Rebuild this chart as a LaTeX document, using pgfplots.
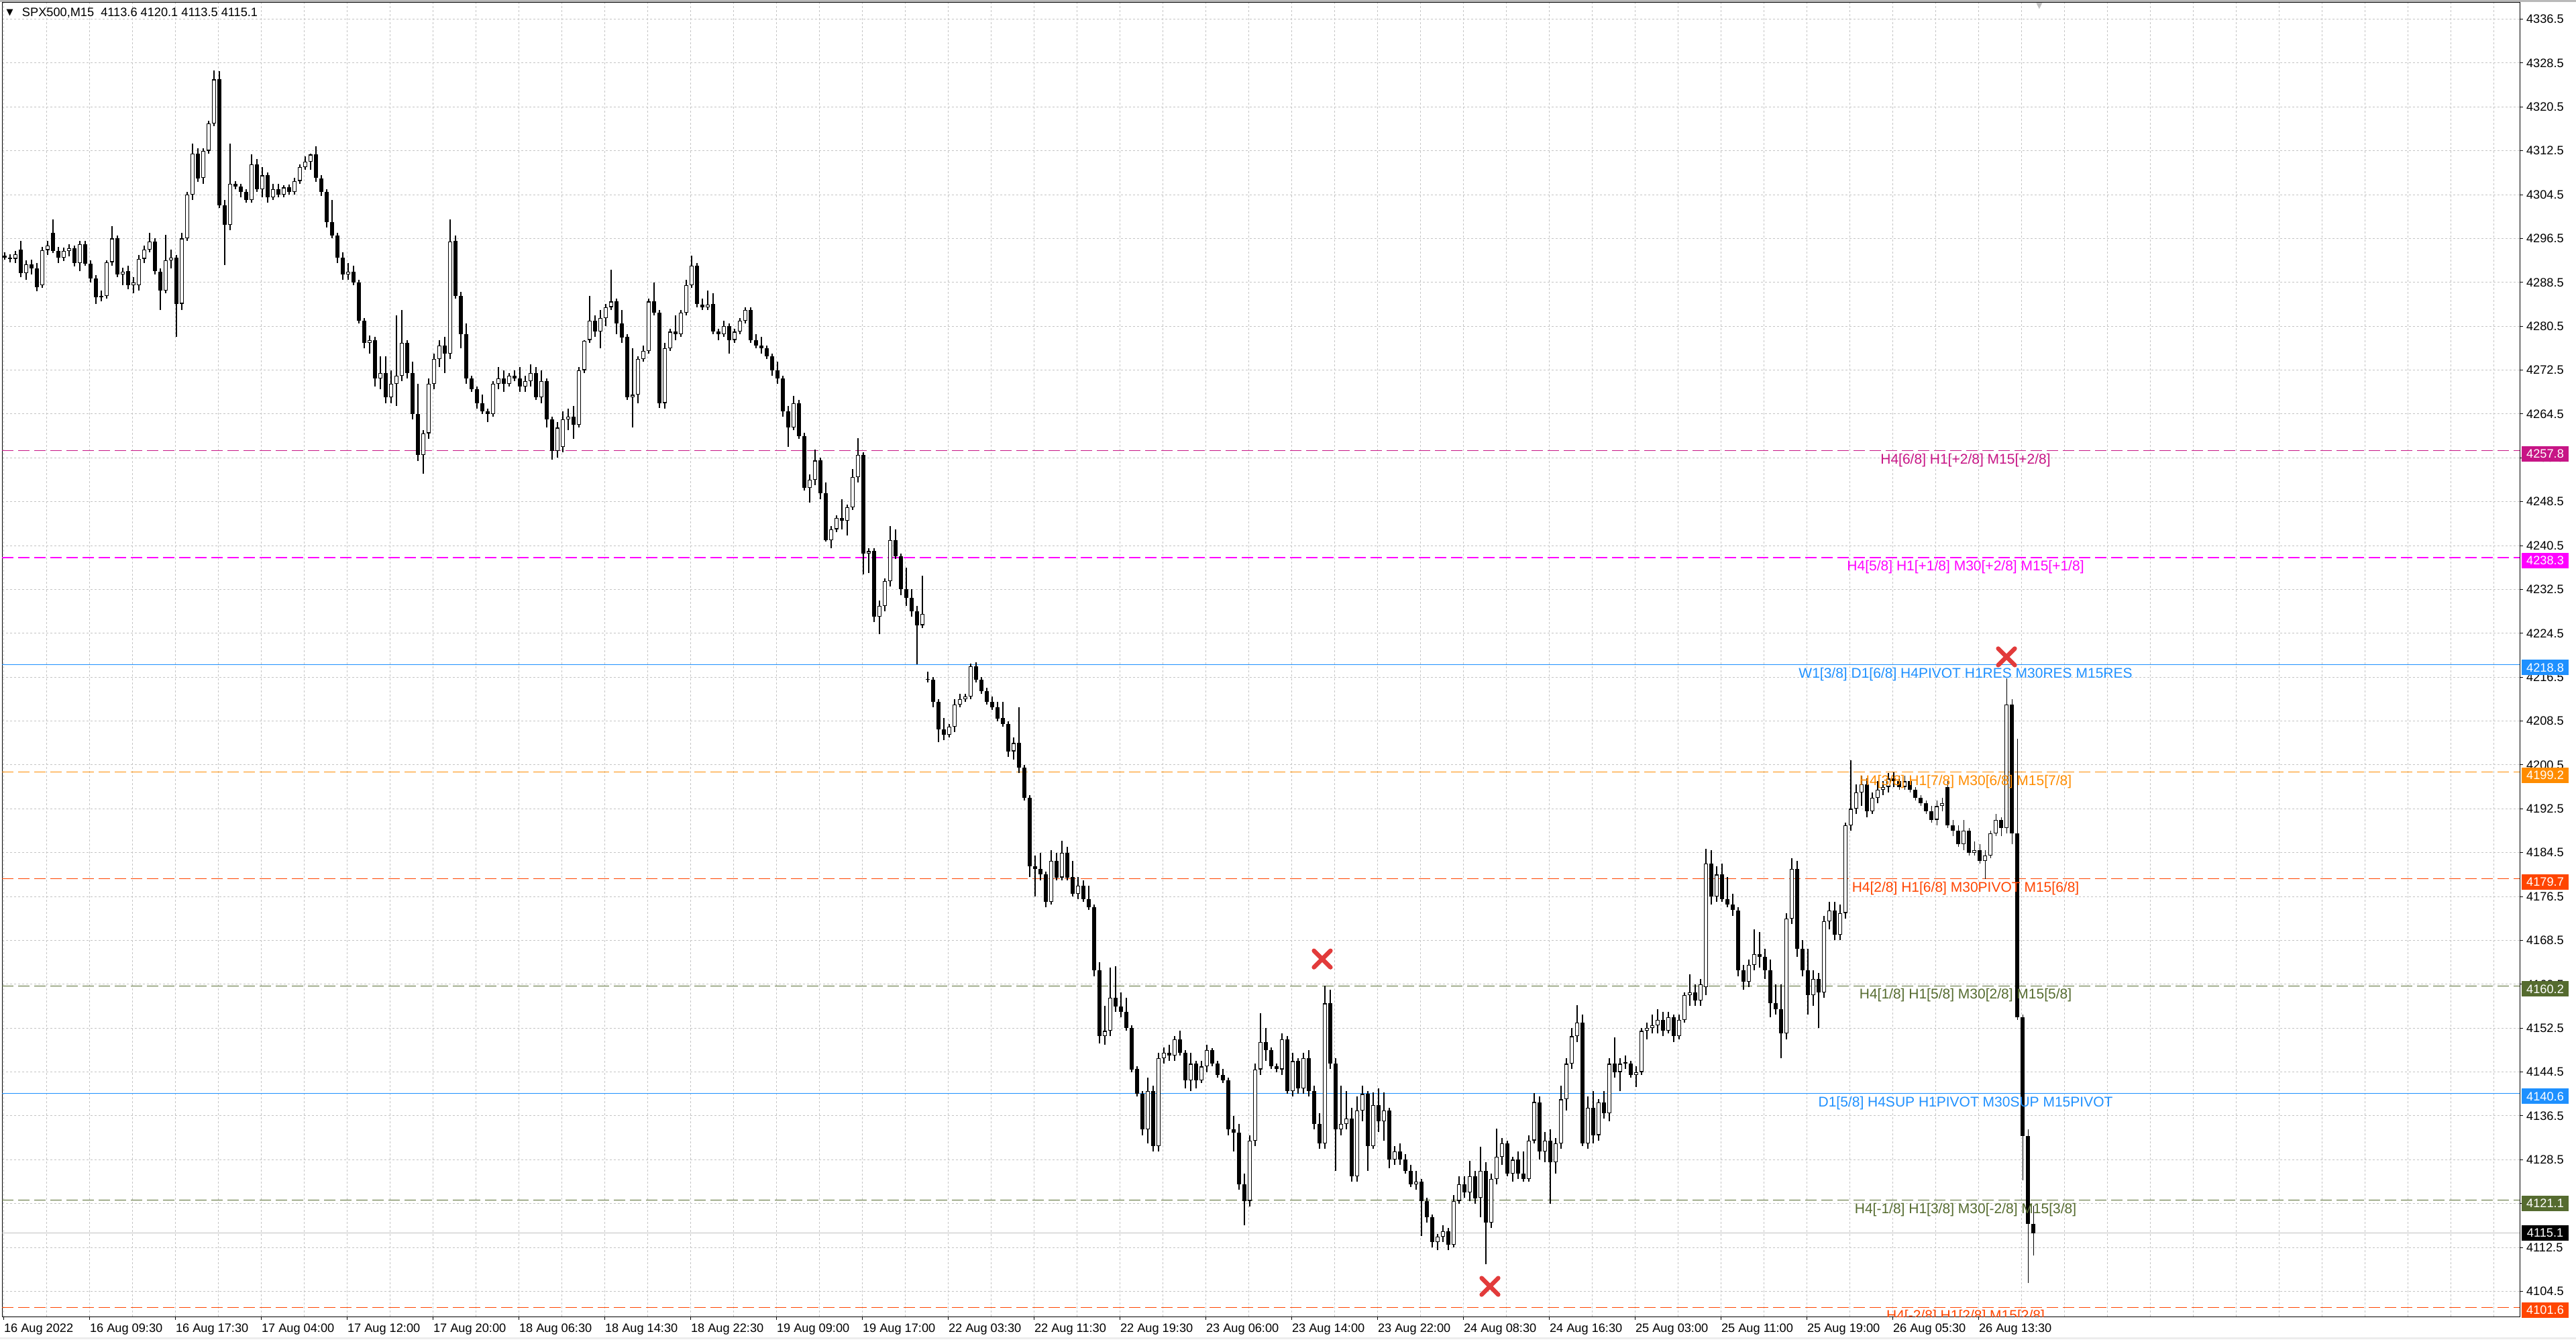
\documentclass[border=0pt]{standalone}
\usepackage{fontspec}
\setmainfont{Liberation Sans}
\newfontfamily\dejavu{DejaVu Sans}
\usepackage{pgfplots}
\usepackage{pgfplotstable}
\pgfplotsset{compat=1.18}

\definecolor{mvr}{HTML}{C71585}
\definecolor{mag}{HTML}{FF00FF}
\definecolor{dblue}{HTML}{1E90FF}
\definecolor{dorange}{HTML}{FF8C00}
\definecolor{ored}{HTML}{FF4500}
\definecolor{olive}{HTML}{556B2F}
\definecolor{gridc}{HTML}{C4C4C4}
\definecolor{xred}{HTML}{E23B3B}
\definecolor{cur}{HTML}{C0C0C0}

\newcommand\lab{\fontsize{3.64pt}{4pt}\selectfont}
\newcommand\lvlfont{\fontsize{4.2pt}{5pt}\selectfont}

\tikzset{
  lvl/.style={line width=0.22pt, dash pattern=on 3.4pt off 1.4pt},
  box/.style={anchor=west, fill=#1, text=white, font=\lab, inner sep=0pt,
    minimum width=14pt, minimum height=4.6pt, xshift=0.4pt, yshift=-0.9pt},
  lvltext/.style={anchor=north, font=\lvlfont, inner sep=0pt, yshift=-0.7pt, text=#1},
}
\pgfplotsset{
  nomark/.style={only marks, mark=*, mark size=0pt, mark options={draw=none, fill=none}},
}

% SPX500 M15 candles, two bars per row: x = bar index, open high low close
\pgfplotstableread{
x o h l c
0.5 4293.4 4294.0 4292.6 4293.0
2.5 4293.0 4293.6 4292.2 4292.8
4.5 4292.8 4294.2 4292.0 4293.6
6.5 4294.5 4296.0 4289.5 4290.2
8.5 4290.2 4292.5 4289.0 4291.8
10.5 4291.8 4292.6 4290.0 4291.0
12.5 4291.0 4292.0 4286.9 4287.6
14.5 4288.0 4295.0 4287.5 4294.4
16.5 4294.4 4296.0 4293.5 4295.2
18.5 4297.5 4300.0 4293.8 4294.2
20.5 4294.2 4295.0 4292.0 4293.0
22.5 4293.0 4294.8 4292.4 4294.2
24.5 4294.2 4295.5 4293.2 4294.7
26.5 4294.7 4295.2 4291.4 4292.0
28.5 4292.0 4296.0 4290.5 4295.5
30.5 4295.5 4296.0 4291.5 4291.9
32.5 4291.9 4292.5 4288.5 4289.2
34.5 4289.2 4289.8 4284.6 4285.8
36.5 4285.8 4287.0 4285.0 4286.0
38.5 4286.0 4292.5 4285.5 4292.2
40.5 4292.2 4298.7 4291.5 4296.5
42.5 4296.5 4297.0 4289.5 4290.0
44.5 4290.0 4291.2 4288.0 4290.5
46.5 4290.5 4291.5 4287.2 4288.0
48.5 4288.0 4289.5 4286.5 4288.5
50.5 4288.0 4293.5 4287.0 4292.8
52.5 4292.8 4295.2 4292.0 4294.5
54.5 4294.5 4297.5 4294.0 4296.0
56.5 4296.0 4296.5 4290.0 4290.5
58.5 4290.5 4291.0 4283.5 4287.0
60.5 4287.0 4297.2 4286.5 4292.5
62.5 4292.5 4294.5 4291.0 4293.0
64.5 4293.0 4293.5 4278.5 4284.6
66.5 4284.6 4297.5 4283.5 4296.5
68.5 4296.5 4305.0 4296.0 4304.5
70.5 4304.5 4313.8 4303.5 4312.0
72.5 4312.0 4313.0 4306.8 4307.5
74.5 4307.5 4313.0 4306.5 4312.5
76.5 4312.5 4318.0 4312.0 4317.5
78.5 4317.5 4327.1 4317.0 4325.5
80.5 4325.5 4327.0 4302.0 4302.5
82.5 4302.5 4303.5 4291.6 4299.0
84.5 4299.0 4313.8 4298.0 4306.5
86.5 4306.5 4307.0 4305.5 4306.0
88.5 4306.0 4306.5 4304.0 4305.0
90.5 4305.0 4305.5 4303.0 4303.5
92.5 4303.5 4311.8 4303.0 4310.0
94.5 4310.0 4311.0 4305.0 4305.5
96.5 4305.5 4309.5 4304.0 4308.0
98.5 4308.0 4308.5 4303.0 4304.0
100.5 4304.0 4306.5 4303.5 4305.5
102.5 4305.5 4306.5 4304.0 4304.5
104.5 4304.5 4306.2 4304.0 4305.8
106.5 4305.8 4306.3 4304.5 4305.0
108.5 4305.0 4307.5 4304.5 4307.0
110.5 4307.0 4310.0 4306.5 4309.5
112.5 4309.5 4311.5 4309.0 4310.5
114.5 4310.5 4312.0 4309.0 4311.8
116.5 4311.8 4313.3 4306.8 4307.5
118.5 4307.5 4308.0 4304.2 4305.0
120.5 4305.0 4305.5 4298.5 4299.5
122.5 4299.5 4303.5 4296.5 4297.0
124.5 4297.0 4297.5 4292.0 4293.0
126.5 4293.0 4294.0 4289.0 4290.0
128.5 4290.0 4292.0 4289.0 4290.5
130.5 4290.5 4291.5 4288.0 4288.5
132.5 4288.5 4289.0 4281.0 4281.5
134.5 4281.5 4282.0 4276.5 4277.5
136.5 4277.5 4278.8 4275.5 4278.0
138.5 4278.0 4278.5 4269.5 4271.0
140.5 4271.0 4275.0 4269.0 4272.0
142.5 4272.0 4275.0 4266.5 4267.5
144.5 4267.5 4272.5 4266.5 4270.0
146.5 4270.0 4282.5 4266.0 4271.5
148.5 4271.5 4283.5 4270.5 4277.5
150.5 4277.5 4278.0 4271.0 4272.0
152.5 4272.0 4274.0 4263.5 4264.5
154.5 4264.5 4270.0 4255.9 4257.0
156.5 4257.0 4261.5 4253.6 4261.0
158.5 4261.0 4271.0 4260.0 4270.0
160.5 4270.0 4275.5 4269.0 4274.5
162.5 4274.5 4278.0 4273.0 4277.0
164.5 4277.0 4278.5 4272.0 4275.5
166.5 4275.5 4300.0 4274.5 4296.0
168.5 4296.0 4297.0 4285.5 4286.0
170.5 4286.0 4286.8 4276.5 4279.0
172.5 4279.0 4281.0 4270.0 4271.0
174.5 4271.0 4271.5 4268.5 4269.0
176.5 4269.0 4269.5 4265.5 4266.5
178.5 4266.5 4268.0 4264.5 4265.0
180.5 4265.0 4265.5 4263.0 4264.5
182.5 4264.5 4270.5 4264.0 4270.0
184.5 4270.0 4273.0 4269.0 4271.0
186.5 4271.0 4272.5 4268.5 4270.0
188.5 4270.0 4272.0 4269.5 4271.5
190.5 4271.5 4272.5 4270.5 4271.0
192.5 4271.0 4273.0 4268.5 4269.5
194.5 4269.5 4271.5 4268.5 4270.5
196.5 4270.5 4273.5 4269.5 4272.0
198.5 4272.0 4273.0 4267.0 4267.5
200.5 4267.5 4272.5 4266.5 4270.5
202.5 4270.5 4271.0 4262.0 4263.5
204.5 4263.5 4264.0 4256.2 4257.8
206.5 4257.8 4263.0 4256.5 4262.0
208.5 4258.5 4265.0 4257.5 4263.5
210.5 4263.5 4265.5 4261.5 4264.0
212.5 4264.0 4266.0 4260.0 4262.5
214.5 4262.5 4273.0 4262.0 4272.5
216.5 4272.5 4278.0 4272.0 4277.8
218.5 4278.0 4286.0 4277.5 4281.5
220.5 4281.5 4282.5 4278.5 4279.5
222.5 4279.5 4283.5 4276.5 4282.0
224.5 4282.0 4284.5 4280.5 4284.0
226.5 4284.0 4290.8 4283.5 4285.0
228.5 4285.0 4285.5 4279.0 4281.0
230.5 4281.0 4283.5 4277.5 4278.5
232.5 4278.5 4279.0 4267.0 4267.5
234.5 4267.5 4276.5 4262.0 4268.0
236.5 4268.0 4275.0 4266.5 4274.5
238.5 4274.5 4277.0 4274.0 4276.0
240.5 4276.0 4285.5 4275.5 4285.0
242.5 4285.0 4288.5 4282.5 4283.0
244.5 4283.0 4283.5 4265.6 4266.5
246.5 4266.5 4277.5 4265.5 4276.5
248.5 4276.5 4280.0 4276.0 4279.5
250.5 4279.5 4282.5 4278.0 4279.0
252.5 4279.0 4283.5 4278.5 4283.0
254.5 4283.0 4289.0 4282.5 4288.0
256.5 4288.0 4293.4 4287.5 4291.5
258.5 4291.5 4292.0 4284.0 4284.5
260.5 4284.5 4285.5 4283.5 4284.0
262.5 4284.0 4287.0 4283.5 4284.5
264.5 4284.5 4286.5 4279.0 4279.5
266.5 4279.5 4280.0 4278.0 4279.0
268.5 4279.0 4281.5 4278.5 4280.5
270.5 4280.5 4281.0 4275.5 4278.0
272.5 4278.0 4280.0 4277.5 4279.5
274.5 4279.5 4282.0 4279.0 4281.5
276.5 4281.5 4284.0 4281.0 4283.5
278.5 4283.5 4284.0 4277.5 4278.0
280.5 4278.0 4279.0 4276.5 4277.0
282.5 4277.0 4278.5 4275.5 4276.5
284.5 4276.5 4277.0 4274.5 4275.0
286.5 4275.0 4275.5 4271.5 4272.5
288.5 4272.5 4274.0 4270.0 4271.0
290.5 4271.0 4271.5 4264.0 4265.0
292.5 4265.0 4266.0 4258.5 4262.0
294.5 4262.0 4267.8 4261.5 4266.5
296.5 4266.5 4267.0 4260.0 4260.5
298.5 4260.5 4261.0 4250.5 4251.0
300.5 4251.0 4253.5 4248.3 4252.5
302.5 4252.5 4258.0 4251.5 4256.0
304.5 4256.0 4256.5 4249.0 4250.0
306.5 4250.0 4252.0 4241.2 4241.5
308.5 4241.5 4244.0 4240.0 4243.5
310.5 4243.5 4246.0 4243.0 4245.5
312.5 4245.5 4249.0 4243.5 4245.0
314.5 4245.0 4248.0 4242.3 4247.5
316.5 4247.5 4254.5 4247.0 4253.0
318.5 4253.0 4260.1 4252.0 4257.0
320.5 4257.0 4257.5 4235.2 4239.0
322.5 4239.0 4240.0 4235.5 4239.5
324.5 4239.5 4240.0 4226.5 4227.5
326.5 4227.5 4230.5 4224.3 4229.5
328.5 4229.5 4234.5 4228.5 4234.0
330.5 4234.0 4244.0 4233.0 4241.5
332.5 4241.5 4243.5 4238.0 4238.5
334.5 4238.5 4239.0 4231.5 4232.5
336.5 4232.5 4236.5 4229.5 4231.0
338.5 4231.0 4232.5 4227.5 4228.5
340.5 4228.5 4229.5 4218.8 4226.0
342.5 4226.0 4235.0 4225.5 4228.0
344.5 4216.2 4217.5 4215.5 4216.0
346.5 4216.0 4216.5 4211.0 4212.0
348.5 4212.0 4212.5 4204.7 4207.0
350.5 4207.0 4209.0 4205.0 4206.0
352.5 4206.0 4208.0 4205.5 4207.5
354.5 4207.5 4212.5 4206.5 4211.5
356.5 4211.5 4213.5 4211.0 4212.5
358.5 4212.5 4213.5 4212.0 4213.0
360.5 4213.0 4219.0 4212.5 4218.5
362.5 4218.5 4219.2 4215.5 4216.0
364.5 4216.0 4216.5 4213.5 4214.0
366.5 4214.0 4214.5 4211.5 4212.0
368.5 4212.0 4213.0 4210.5 4211.0
370.5 4211.0 4212.0 4208.5 4209.0
372.5 4209.0 4212.0 4207.5 4208.0
374.5 4208.0 4208.5 4202.0 4203.0
376.5 4203.0 4205.5 4201.5 4204.5
378.5 4204.5 4211.0 4199.0 4200.0
380.5 4200.0 4200.5 4194.0 4194.5
382.5 4194.5 4195.0 4180.0 4182.0
384.5 4182.0 4184.0 4176.5 4181.5
386.5 4181.5 4184.5 4179.5 4180.5
388.5 4180.5 4181.0 4174.5 4175.5
390.5 4175.5 4185.0 4175.0 4183.0
392.5 4183.0 4184.5 4179.5 4180.0
394.5 4180.0 4186.7 4179.5 4184.5
396.5 4184.5 4185.5 4179.5 4180.0
398.5 4180.0 4183.0 4176.5 4177.0
400.5 4177.0 4180.0 4176.0 4178.5
402.5 4178.5 4179.5 4175.5 4176.0
404.5 4176.0 4178.5 4174.0 4174.5
406.5 4174.5 4175.0 4162.0 4163.0
408.5 4163.0 4164.5 4149.7 4151.0
410.5 4151.0 4156.5 4149.5 4152.0
412.5 4152.0 4163.5 4151.0 4158.0
414.5 4158.0 4163.8 4155.5 4156.5
416.5 4156.5 4159.0 4154.5 4155.5
418.5 4155.5 4158.0 4152.0 4152.5
420.5 4152.5 4153.0 4144.5 4145.0
422.5 4145.0 4145.5 4140.0 4140.5
424.5 4140.5 4141.0 4133.0 4134.0
426.5 4134.0 4143.5 4131.5 4141.0
428.5 4141.0 4142.0 4130.0 4131.0
430.5 4131.0 4148.0 4130.0 4147.0
432.5 4147.0 4149.0 4146.0 4148.0
434.5 4148.0 4149.5 4146.5 4147.5
436.5 4147.5 4151.0 4146.5 4150.5
438.5 4150.5 4152.0 4147.5 4148.0
440.5 4148.0 4148.5 4141.5 4143.0
442.5 4143.0 4148.0 4141.0 4146.0
444.5 4146.0 4146.5 4141.5 4143.0
446.5 4143.0 4146.5 4142.5 4145.5
448.5 4145.5 4149.5 4144.5 4148.5
450.5 4148.5 4148.8 4145.5 4146.0
452.5 4146.0 4146.5 4143.5 4144.0
454.5 4144.0 4145.0 4142.5 4143.0
456.5 4143.0 4143.5 4133.0 4134.0
458.5 4134.0 4136.5 4130.0 4133.5
460.5 4133.5 4135.0 4123.0 4124.0
462.5 4124.0 4126.0 4116.6 4121.0
464.5 4121.0 4133.0 4120.0 4132.0
466.5 4132.0 4146.0 4131.0 4145.0
468.5 4145.0 4155.2 4144.0 4150.0
470.5 4150.0 4152.5 4146.5 4148.5
472.5 4148.5 4149.0 4145.0 4145.5
474.5 4145.5 4146.0 4144.5 4145.0
476.5 4145.0 4151.5 4144.0 4150.5
478.5 4150.5 4151.0 4140.5 4141.0
480.5 4141.0 4148.0 4140.0 4146.5
482.5 4146.5 4147.0 4140.5 4141.5
484.5 4141.5 4148.0 4140.5 4147.0
486.5 4147.0 4148.5 4140.0 4141.0
488.5 4141.0 4142.0 4134.0 4135.0
490.5 4135.0 4137.0 4130.5 4131.5
492.5 4131.5 4160.2 4130.5 4157.0
494.5 4157.0 4159.5 4145.0 4146.0
496.5 4146.0 4147.0 4126.5 4134.0
498.5 4134.0 4142.0 4133.0 4135.0
500.5 4135.0 4141.0 4134.0 4136.0
502.5 4136.0 4138.0 4124.5 4125.5
504.5 4125.5 4140.0 4124.5 4137.5
506.5 4137.5 4142.0 4135.5 4140.5
508.5 4140.5 4141.0 4126.5 4131.0
510.5 4131.0 4140.8 4130.5 4138.5
512.5 4138.5 4141.5 4133.5 4135.5
514.5 4135.5 4140.8 4132.0 4137.5
516.5 4137.5 4138.0 4127.0 4128.5
518.5 4128.5 4131.0 4127.5 4130.0
520.5 4130.0 4131.5 4127.5 4128.5
522.5 4128.5 4129.5 4126.0 4126.5
524.5 4126.5 4127.5 4123.5 4124.0
526.5 4124.0 4126.5 4123.0 4124.5
528.5 4124.5 4125.0 4114.6 4121.0
530.5 4121.0 4121.5 4117.0 4118.0
532.5 4118.0 4118.5 4112.5 4113.5
534.5 4113.5 4115.0 4112.0 4114.5
536.5 4114.5 4116.5 4113.5 4115.5
538.5 4115.5 4116.0 4112.0 4113.0
540.5 4113.0 4122.0 4112.5 4121.0
542.5 4121.0 4125.5 4120.5 4124.0
544.5 4124.0 4125.5 4121.5 4122.5
546.5 4122.5 4128.3 4121.0 4125.5
548.5 4125.5 4126.5 4120.5 4121.5
550.5 4121.5 4130.8 4118.0 4126.5
552.5 4126.5 4128.0 4109.4 4117.0
554.5 4117.0 4126.0 4116.0 4125.0
556.5 4125.0 4134.2 4124.0 4129.0
558.5 4129.0 4132.5 4127.5 4131.5
560.5 4131.5 4132.0 4125.5 4126.0
562.5 4126.0 4129.0 4124.5 4128.5
564.5 4128.5 4130.0 4125.0 4126.0
566.5 4126.0 4130.0 4124.5 4125.0
568.5 4125.0 4133.0 4124.5 4132.0
570.5 4132.0 4140.6 4131.5 4139.0
572.5 4139.0 4140.0 4128.5 4130.0
574.5 4130.0 4133.5 4128.0 4132.0
576.5 4132.0 4134.0 4120.5 4128.0
578.5 4128.0 4132.5 4126.0 4131.5
580.5 4131.5 4142.0 4130.5 4139.5
582.5 4139.5 4147.0 4137.5 4146.0
584.5 4146.0 4152.5 4145.0 4151.0
586.5 4151.0 4156.7 4150.0 4153.5
588.5 4153.5 4155.0 4131.0 4131.5
590.5 4131.5 4140.0 4130.5 4138.0
592.5 4138.0 4141.0 4131.5 4133.0
594.5 4133.0 4139.5 4132.0 4139.0
596.5 4139.0 4141.0 4136.0 4137.0
598.5 4137.0 4147.0 4135.5 4146.0
600.5 4146.0 4150.8 4143.5 4144.5
602.5 4144.5 4147.0 4141.0 4146.0
604.5 4146.0 4147.5 4145.0 4146.3
606.5 4146.0 4146.5 4143.5 4144.0
608.5 4144.0 4145.5 4141.8 4144.5
610.5 4144.5 4152.5 4144.0 4152.0
612.5 4152.0 4153.5 4150.5 4152.5
614.5 4152.5 4155.0 4151.5 4153.0
616.5 4153.0 4156.0 4151.5 4154.0
618.5 4154.0 4155.5 4151.0 4152.0
620.5 4152.0 4155.5 4151.5 4154.5
622.5 4154.5 4155.0 4150.0 4151.0
624.5 4151.0 4155.0 4150.5 4154.0
626.5 4154.0 4159.0 4153.5 4158.5
628.5 4158.5 4162.3 4156.5 4159.0
630.5 4159.0 4160.5 4156.5 4157.5
632.5 4157.5 4161.5 4156.5 4160.5
634.5 4160.0 4185.2 4158.5 4182.5
636.5 4182.5 4185.0 4175.0 4176.5
638.5 4176.5 4182.0 4175.5 4180.5
640.5 4180.5 4182.5 4175.5 4176.0
642.5 4176.0 4180.0 4174.5 4175.0
644.5 4175.0 4177.0 4173.0 4174.0
646.5 4174.0 4174.5 4162.0 4163.0
648.5 4163.0 4164.0 4159.5 4161.0
650.5 4161.0 4165.0 4160.0 4164.0
652.5 4164.0 4170.5 4163.0 4166.0
654.5 4166.0 4170.0 4163.5 4165.5
656.5 4165.5 4167.0 4161.5 4163.0
658.5 4163.0 4165.0 4154.5 4157.0
660.5 4157.0 4160.5 4155.0 4156.0
662.5 4156.0 4160.5 4147.0 4151.5
664.5 4151.5 4173.5 4150.5 4172.5
666.5 4172.5 4183.5 4171.5 4181.5
668.5 4181.5 4183.0 4165.5 4167.0
670.5 4167.0 4168.5 4162.0 4163.0
672.5 4163.0 4167.0 4155.0 4158.5
674.5 4158.5 4163.0 4156.5 4161.5
676.5 4161.5 4162.5 4152.5 4159.0
678.5 4159.0 4173.0 4158.0 4172.0
680.5 4172.0 4175.5 4170.5 4174.0
682.5 4174.0 4175.5 4168.5 4169.5
684.5 4169.5 4175.0 4168.5 4173.5
686.5 4173.5 4190.0 4172.5 4189.5
688.5 4189.5 4201.4 4188.5 4192.5
690.5 4192.5 4197.0 4191.5 4195.5
692.5 4195.5 4198.5 4193.0 4197.0
694.5 4197.0 4198.0 4191.0 4192.0
696.5 4192.0 4195.5 4191.5 4194.5
698.5 4194.5 4197.5 4193.5 4196.0
700.5 4196.0 4197.5 4195.0 4196.5
702.5 4196.5 4199.0 4195.5 4198.0
704.5 4198.0 4199.2 4196.5 4197.5
706.5 4197.5 4198.5 4196.0 4196.5
708.5 4196.5 4198.5 4196.0 4197.5
710.5 4197.5 4198.0 4195.5 4196.0
712.5 4196.0 4196.5 4194.0 4194.5
714.5 4194.5 4195.0 4193.0 4193.5
716.5 4193.5 4194.0 4191.5 4192.0
718.5 4192.0 4193.0 4190.0 4190.5
720.5 4190.5 4194.0 4189.5 4193.0
722.5 4193.0 4194.5 4192.0 4193.5
724.5 4196.5 4197.5 4189.0 4189.5
726.5 4189.5 4190.5 4187.5 4188.5
728.5 4188.5 4189.5 4185.5 4186.0
730.5 4186.0 4190.5 4185.0 4188.5
732.5 4188.5 4189.0 4184.0 4184.5
734.5 4184.5 4186.5 4184.0 4185.0
736.5 4185.0 4186.0 4182.5 4183.0
738.5 4183.0 4185.0 4179.7 4184.0
740.5 4184.0 4188.5 4183.5 4188.0
742.5 4188.0 4191.5 4187.5 4190.5
744.5 4190.5 4191.0 4187.5 4189.0
746.5 4189.0 4216.3 4188.0 4211.5
748.5 4211.5 4212.5 4186.0 4188.0
750.5 4188.0 4205.3 4154.0 4154.5
752.5 4154.5 4155.0 4124.8 4132.8
754.5 4132.8 4134.0 4106.0 4116.8
756.5 4116.8 4120.1 4111.0 4115.1
}\candles

\begin{document}
\begin{tikzpicture}
  \fill[gray!55] (0,398.6pt) rectangle (768pt,399.2pt);
  \fill[gray!15] (0,0) rectangle (768pt,0.6pt);
  \begin{axis}[
      set layers,
      clip mode=individual,
      scale only axis,
      width=750.6pt, height=391.6pt,
      at={(0.6pt,6.8pt)}, anchor=south west,
      xmin=-0.5, xmax=937.75,
      ymin=4099.9, ymax=4339.5,
      axis line style={black, line width=0.2pt},
      tick align=outside,
      major tick length=0.9pt,
      minor tick length=0pt,
      tick style={black, line width=0.2pt},
      xtick pos=bottom,
      ytick pos=right,
      yticklabel pos=right,
      xtick={0,32,...,736},
      minor xtick={16,48,80,112,144,176,208,240,272,304,336,368,400,432,464,496,
        528,560,592,624,656,688,720,752,768,784,800,816,832,848,864,880,896,912,928},
      xticklabels={16 Aug 2022, 16 Aug 09:30, 16 Aug 17:30, 17 Aug 04:00,
        17 Aug 12:00, 17 Aug 20:00, 18 Aug 06:30, 18 Aug 14:30, 18 Aug 22:30,
        19 Aug 09:00, 19 Aug 17:00, 22 Aug 03:30, 22 Aug 11:30, 22 Aug 19:30,
        23 Aug 06:00, 23 Aug 14:00, 23 Aug 22:00, 24 Aug 08:30, 24 Aug 16:30,
        25 Aug 03:00, 25 Aug 11:00, 25 Aug 19:00, 26 Aug 05:30, 26 Aug 13:30},
      ytick={4104.5,4112.5,...,4336.5},
      /pgf/number format/assume math mode=true,
      yticklabel={\pgfmathprintnumber[fixed,fixed zerofill,precision=1,1000 sep={}]{\tick}},
      xticklabel style={font=\lab, anchor=north west, inner sep=0pt, yshift=-1.1pt},
      yticklabel style={font=\lab, anchor=west, inner sep=0pt, xshift=0.9pt},
      grid=both,
      major grid style={draw=gridc, line width=0.2pt, dash pattern=on 0.6pt off 0.6pt},
      minor grid style={draw=gridc, line width=0.2pt, dash pattern=on 0.6pt off 0.6pt},
    ]
    % levels
    \addplot[mvr, lvl] coordinates {(-0.5,4257.8) (937.75,4257.8)};
    \addplot[mag, lvl] coordinates {(-0.5,4238.3) (937.75,4238.3)};
    \addplot[dblue, line width=0.25pt] coordinates {(-0.5,4218.8) (937.75,4218.8)};
    \addplot[dorange, lvl] coordinates {(-0.5,4199.2) (937.75,4199.2)};
    \addplot[ored, lvl] coordinates {(-0.5,4179.7) (937.75,4179.7)};
    \addplot[olive, lvl] coordinates {(-0.5,4160.2) (937.75,4160.2)};
    \addplot[dblue, line width=0.25pt] coordinates {(-0.5,4140.6) (937.75,4140.6)};
    \addplot[olive, lvl] coordinates {(-0.5,4121.1) (937.75,4121.1)};
    \addplot[cur, line width=0.25pt] coordinates {(-0.5,4115.1) (937.75,4115.1)};
    \addplot[ored, lvl] coordinates {(-0.5,4101.6) (937.75,4101.6)};

    % wicks
    \addplot[nomark,
      error bars/.cd, y dir=plus, y explicit, error mark=none,
      error bar style={draw=black, line width=0.22pt, solid}]
      table[x=x, y=l, y error expr=\thisrow{h}-\thisrow{l}] {\candles};
    % bodies
    \addplot[nomark,
      error bars/.cd, y dir=both, y explicit, error mark=none,
      error bar style={draw=black, line width=1.25pt, solid}]
      table[x=x, y expr={(\thisrow{o}+\thisrow{c})/2},
        y error expr={max(abs(\thisrow{o}-\thisrow{c})/2,0.08)}] {\candles};
    % hollow up candles
    \addplot[nomark, unbounded coords=discard,
      error bars/.cd, y dir=both, y explicit, error mark=none,
      error bar style={draw=white, line width=0.8pt, solid}]
      table[x=x, y expr={\thisrow{c}-\thisrow{o}>0.45 ? (\thisrow{o}+\thisrow{c})/2 : nan},
        y error expr={(\thisrow{c}-\thisrow{o})/2-0.15}] {\candles};

    % red crosses
    \addplot[only marks, mark=x, mark size=3.5pt,
      mark options={draw=xred, line width=1.3pt, line cap=round, solid}]
      coordinates {(491.5,4165.1) (554,4105.4) (746.5,4220.2)};

    % level texts
    \node[lvltext=mvr] at (axis cs:731.25,4257.8) {H4[6/8] H1[+2/8] M15[+2/8]};
    \node[lvltext=mag] at (axis cs:731.25,4238.3) {H4[5/8] H1[+1/8] M30[+2/8] M15[+1/8]};
    \node[lvltext=dblue] at (axis cs:731.25,4218.8) {W1[3/8] D1[6/8] H4PIVOT H1RES M30RES M15RES};
    \node[lvltext=dorange] at (axis cs:731.25,4199.2) {H4[3/8] H1[7/8] M30[6/8] M15[7/8]};
    \node[lvltext=ored] at (axis cs:731.25,4179.7) {H4[2/8] H1[6/8] M30PIVOT M15[6/8]};
    \node[lvltext=olive] at (axis cs:731.25,4160.2) {H4[1/8] H1[5/8] M30[2/8] M15[5/8]};
    \node[lvltext=dblue] at (axis cs:731.25,4140.6) {D1[5/8] H4SUP H1PIVOT M30SUP M15PIVOT};
    \node[lvltext=olive] at (axis cs:731.25,4121.1) {H4[-1/8] H1[3/8] M30[-2/8] M15[3/8]};
    \pgfplotsextra{%
      \begin{scope}
        \clip (axis cs:-0.5,4099.9) rectangle (axis cs:937.75,4339.5);
        \node[lvltext=ored] at (axis cs:731.25,4101.6) {H4[-2/8] H1[2/8] M15[2/8]};
      \end{scope}}

    % price boxes on the right
    \node[box=mvr] at (axis cs:937.75,4257.8) {4257.8};
    \node[box=mag] at (axis cs:937.75,4238.3) {4238.3};
    \node[box=dblue] at (axis cs:937.75,4218.8) {4218.8};
    \node[box=dorange] at (axis cs:937.75,4199.2) {4199.2};
    \node[box=ored] at (axis cs:937.75,4179.7) {4179.7};
    \node[box=olive] at (axis cs:937.75,4160.2) {4160.2};
    \node[box=dblue] at (axis cs:937.75,4140.6) {4140.6};
    \node[box=olive] at (axis cs:937.75,4121.1) {4121.1};
    \node[box=black, yshift=0.9pt] at (axis cs:937.75,4115.1) {4115.1};
    \node[box=ored] at (axis cs:937.75,4101.6) {4101.6};

    % header
    \node[anchor=center, font=\dejavu\fontsize{2.6pt}{3pt}\selectfont, inner sep=0pt,
      xshift=2.3pt, yshift=-3pt] at (axis cs:-0.5,4339.5) {▼};
    \node[anchor=west, font=\lab, inner sep=0pt, xshift=5.8pt, yshift=-3pt]
      at (axis cs:-0.5,4339.5) {SPX500,M15\ \ 4113.6 4120.1 4113.5 4115.1};
    \node[anchor=north, font=\dejavu\fontsize{2.4pt}{3pt}\selectfont, inner sep=0pt, text=gray!50]
      at (axis cs:758.75,4339.5) {▼};
  \end{axis}
  \pgfresetboundingbox
  \useasboundingbox (0,0) rectangle (768pt,399.2pt);
\end{tikzpicture}
\end{document}
